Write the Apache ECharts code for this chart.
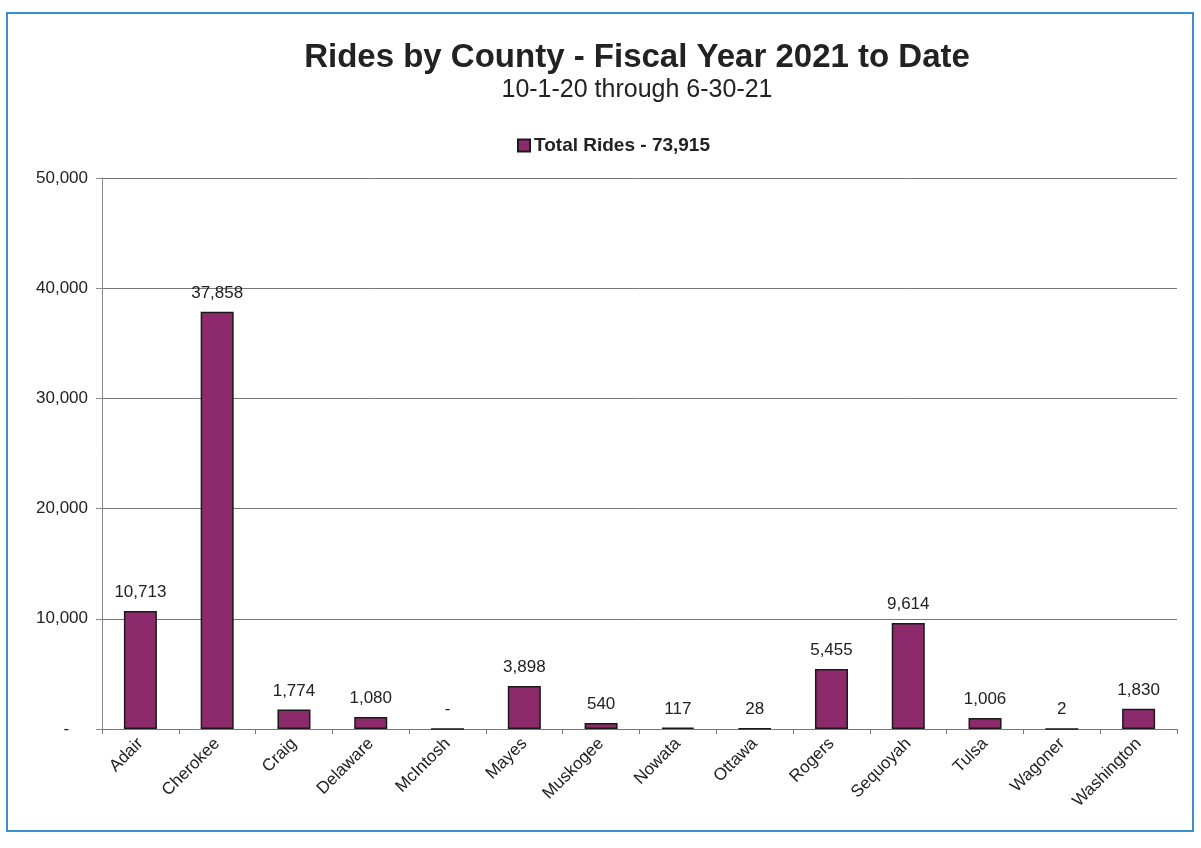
<!DOCTYPE html>
<html>
<head>
<meta charset="utf-8">
<script src="https://cdn.jsdelivr.net/npm/echarts@6/dist/echarts.min.js"></script>
<style>
  html, body { margin: 0; padding: 0; background: #fff; }
  #frame { position: absolute; left: 6px; top: 12px; width: 1188px; height: 820px; border: 2px solid #3a8fd0; box-sizing: border-box; }
  #chart { position: absolute; left: 0; top: 0; width: 1201px; height: 848px; }
</style>
</head>
<body>
<div id="frame"></div>
<div id="chart"></div>
<script>
// counties along the x axis
var counties = ['Adair', 'Cherokee', 'Craig', 'Delaware', 'McIntosh', 'Mayes', 'Muskogee',
  'Nowata', 'Ottawa', 'Rogers', 'Sequoyah', 'Tulsa', 'Wagoner', 'Washington']
// rides per county
var rides = [10713, 37858, 1774, 1080, 0, 3898, 540, 117, 28, 5455, 9614, 1006, 2, 1830]
var totalRides = 73915

var fmt = function (v) {
  return v === 0 ? '-' : v.toLocaleString('en-US')
}

var myChart = echarts.init(document.getElementById('chart'))
var option = {
  animation: false,
  title: {
    text: 'Rides by County - Fiscal Year 2021 to Date',
    subtext: '10-1-20 through 6-30-21',
    left: 632,
    textAlign: 'center',
    top: 36,
    itemGap: 4,
    textStyle: { fontFamily: 'Liberation Sans', fontSize: 33, fontWeight: 'bold', color: '#222' },
    subtextStyle: { fontFamily: 'Liberation Sans', fontSize: 25, color: '#222' }
  },
  legend: {
    top: 131,
    left: 512,
    icon: 'rect',
    itemWidth: 12,
    itemHeight: 12,
    itemGap: 4,
    data: ['Total Rides - ' + totalRides.toLocaleString('en-US')],
    textStyle: { fontFamily: 'Liberation Sans', fontSize: 19, fontWeight: 'bold', color: '#222', padding: [0, 0, 0, -1] }
  },
  grid: { left: 102, right: 24, top: 178, bottom: 119 },
  xAxis: {
    type: 'category',
    data: counties,
    axisLine: { lineStyle: { color: '#777', width: 1 } },
    axisTick: { show: true, length: 5, lineStyle: { color: '#777' } },
    axisLabel: { rotate: 45, interval: 0, fontFamily: 'Liberation Sans', fontSize: 17, color: '#222', margin: 12 }
  },
  yAxis: {
    type: 'value',
    min: 0,
    max: 50000,
    interval: 10000,
    axisLine: { show: true, lineStyle: { color: '#888' } },
    axisTick: { show: true, length: 6, lineStyle: { color: '#888' } },
    splitLine: { lineStyle: { color: '#777', width: 1 } },
    axisLabel: {
      fontFamily: 'Liberation Sans', fontSize: 17, color: '#222', margin: 14,
      formatter: function (v) { return v === 0 ? '-    ' : fmt(v) }
    }
  },
  series: [{
    name: 'Total Rides - ' + totalRides.toLocaleString('en-US'),
    type: 'bar',
    data: rides,
    barWidth: '43%',
    itemStyle: { color: '#8c2a6c', borderColor: '#1a1a1a', borderWidth: 1.5 },
    label: {
      show: true,
      position: 'top',
      distance: 10,
      fontFamily: 'Liberation Sans',
      fontSize: 17,
      color: '#222',
      formatter: function (p) { return fmt(p.value) }
    }
  }]
}
myChart.setOption(option)
window.addEventListener('resize', function () {
  myChart.resize()
})
</script>
</body>
</html>
